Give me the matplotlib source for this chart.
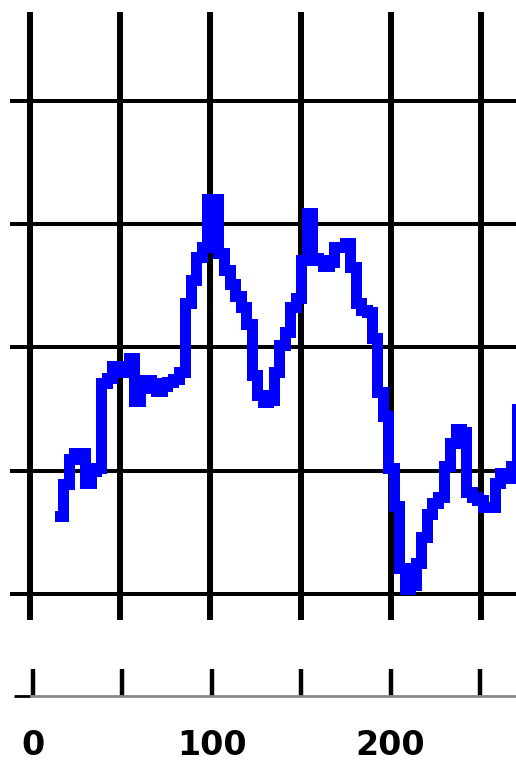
import matplotlib
matplotlib.use('Agg')
import matplotlib.pyplot as plt

# ---- data ----
x_vals = [16.6, 20.0, 22.7, 26.1, 28.8, 32.2, 34.9, 38.2, 41.0, 44.3,
          47.1, 50.4, 53.2, 56.5, 59.3, 62.6, 65.4, 68.7, 71.5, 74.8,
          77.6, 80.9, 84.2, 87.6, 90.4, 93.7, 96.5, 99.8, 102.5, 105.9,
          109.2, 112.0, 115.3, 118.1, 121.4, 124.2, 127.5, 130.3, 133.6, 136.4,
          139.7, 142.5, 145.8, 148.6, 151.9, 154.7, 158.0, 160.8, 164.1, 166.9,
          170.2, 172.9, 176.3, 179.0, 182.4, 185.1, 188.5, 191.2, 194.0, 196.8,
          200.1, 203.4, 206.2, 209.5, 212.3, 215.6, 218.4, 221.7, 224.5, 227.8,
          231.2, 234.5, 237.3, 240.6, 243.3, 246.7, 249.4, 252.8, 256.1, 259.4,
          262.2, 265.5, 268.3, 271.6]
y_vals = [6.33, 8.92, 10.95, 11.44, 11.44, 9.01, 9.98, 10.22, 17.12, 17.53,
          18.50, 18.50, 18.01, 19.15, 15.66, 16.71, 17.36, 17.12, 16.47, 16.88,
          17.20, 17.44, 18.01, 23.61, 25.48, 27.34, 28.15, 32.05, 32.05, 27.67,
          26.29, 25.15, 24.18, 23.29, 21.91, 17.77, 16.15, 15.58, 15.74, 18.01,
          20.20, 21.26, 23.29, 24.02, 27.10, 30.91, 27.26, 27.10, 26.61, 26.94,
          28.15, 28.15, 28.48, 26.53, 23.61, 23.04, 22.88, 20.80, 16.39, 14.44,
          10.22, 7.14, 2.11, 0.41, 0.73, 2.52, 4.62, 6.49, 7.38, 7.87,
          10.39, 12.25, 13.39, 13.14, 8.28, 7.87, 7.63, 7.06, 7.06, 9.01,
          9.82, 9.41, 10.39, 15.01]
x_grid = [0, 50, 100, 150, 200, 250]
y_grid = [0, 10, 20, 30, 40]
tick_vals = [0, 50, 100, 150, 200, 250]
tick_labels = ['0', '', '100', '', '200', '']

W, H = 516, 765
fig = plt.figure(figsize=(W / 100, H / 100), dpi=100)


def box(l, t, r, b):
    return [l / W, 1 - b / H, (r - l) / W, (b - t) / H]


# ---- main panel ----
ax = fig.add_axes(box(10, 12, 516, 620))
ax.set_xlim(-11.09, 269.4)
ax.set_ylim(-2.11, 47.22)
for gx in x_grid:
    ax.axvline(gx, color='black', lw=4.3, antialiased=False, zorder=1)
for gy in y_grid:
    ax.axhline(gy, color='black', lw=2.6, antialiased=False, zorder=1)

# step line (mid-step), drawn as separate segments so overlaps stay solid
n = len(x_vals)
mids = [(x_vals[i] + x_vals[i + 1]) / 2 for i in range(n - 1)]
left_edges = [x_vals[0]] + mids
right_edges = mids + [x_vals[-1]]
LW = 7.9
BLUE = '#0000ff'
ax.hlines(y_vals, left_edges, right_edges, colors=BLUE, lw=LW,
          antialiased=False, capstyle='projecting', zorder=3)
ax.vlines(mids, y_vals[:-1], y_vals[1:], colors=BLUE, lw=LW,
          antialiased=False, capstyle='projecting', zorder=3)
ax.axis('off')

# ---- bottom axis ----
ax2 = fig.add_axes(box(14, 640, 516, 696))
ax2.set_xlim(-10.6, 270.1)
ax2.set_ylim(0, 1)
ax2.patch.set_visible(False)
for s in ['top', 'left', 'right']:
    ax2.spines[s].set_visible(False)
ax2.spines['bottom'].set_color('#888888')
ax2.spines['bottom'].set_linewidth(2.0)
ax2.spines['bottom'].set_bounds(-1.1, 270.1)
ax2.plot([-10.6, -1.1], [0, 0], color='black', lw=2.0, clip_on=False,
         solid_capstyle='butt')
ax2.set_yticks([])
ax2.set_xticks(tick_vals, tick_labels)
ax2.tick_params(axis='x', direction='in', length=19.4, width=3.2,
                color='black', pad=24, labelsize=24)
for lab in ax2.get_xticklabels():
    lab.set_fontweight('heavy')
    lab.set_family('DejaVu Sans')

fig.savefig('out.png', dpi=100)
